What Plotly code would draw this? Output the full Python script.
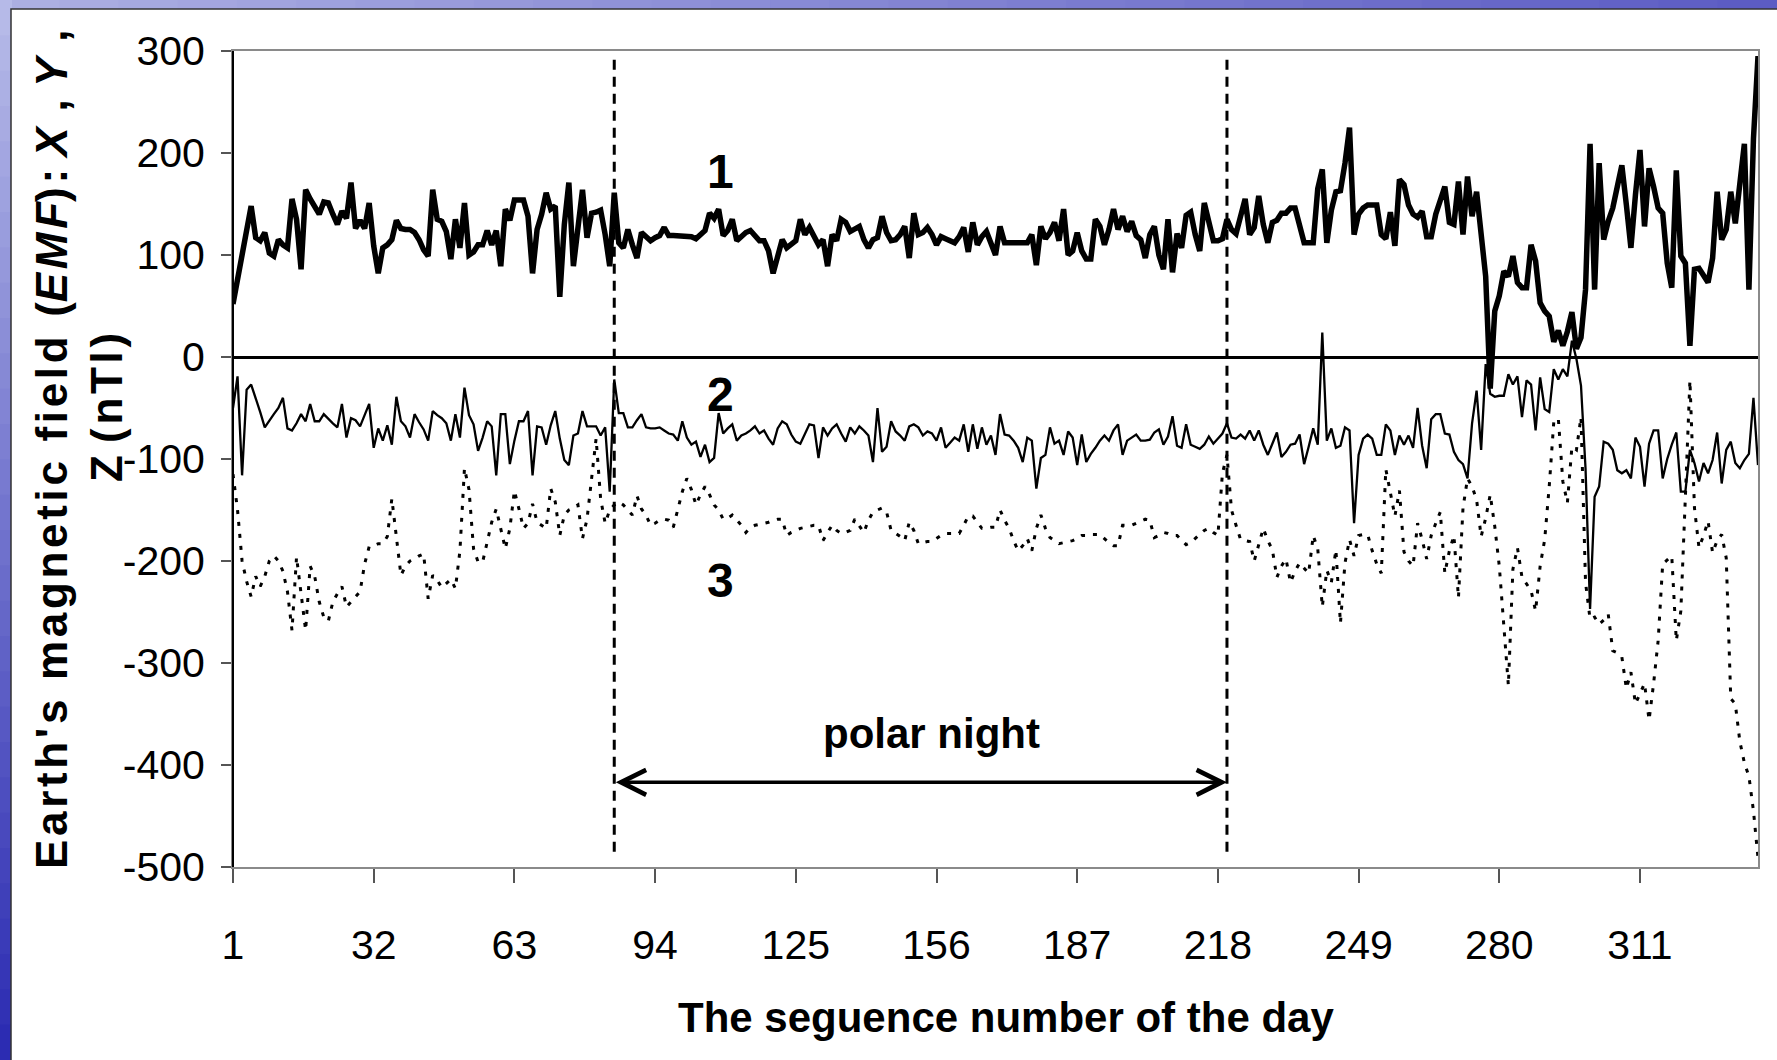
import plotly.graph_objects as go

# ---------------- data ----------------
days = list(range(1, 338))

# curve 1 (X component)
x_comp = [
    52, 75, 95, 125, 148, 117, 114, 122, 102, 99,
    115, 110, 107, 155, 135, 86, 164, 155, 148, 140,
    152, 151, 140, 130, 143, 136, 171, 126, 134, 126,
    151, 109, 82, 107, 110, 115, 134, 126, 125, 125,
    122, 115, 105, 99, 164, 135, 133, 123, 96, 135,
    107, 151, 100, 103, 110, 110, 124, 110, 124, 89,
    145, 134, 154, 154, 154, 138, 82,
    125, 140, 161,
    145, 148, 59, 130, 171, 89, 133, 164, 117, 141,
    142, 144, 120, 89, 161, 112, 107, 125, 110, 97,
    122, 118, 114, 117, 119, 127, 119, 119, 119, 119,
    119, 118, 116, 120, 124, 141, 136, 145, 119, 124,
    135, 114, 118, 122, 124, 118, 114, 114, 104, 82,
    99, 115, 107, 110, 114, 135, 120, 127, 118, 110,
    115, 89, 120, 114, 135,
    132, 123, 126, 128, 115,
    107, 115, 117, 138, 122, 114, 115, 120, 128, 97,
    141, 120, 122, 127, 120, 110, 118, 116, 114, 112,
    118, 127, 103, 132, 110, 118, 123, 110, 100, 128,
    112, 112, 112, 112, 112, 112, 120, 90, 128, 116,
    122, 132, 114, 145, 100, 104, 122, 104, 96, 96,
    135, 128, 110, 125, 145, 125, 138, 123, 133, 119,
    115, 97, 120, 128, 100, 86, 135, 83, 121, 107,
    139, 142, 120, 104, 151, 130, 114, 114, 116, 135,
    125, 121, 140, 155, 120, 127, 158, 130, 112, 132,
    134, 141, 141, 146, 146, 130, 112, 112, 112, 165,
    184, 112, 144, 162, 163, 190, 225, 120, 140, 146,
    149, 149, 149, 120, 116, 142, 109, 174, 169, 149,
    140, 137, 143, 118, 118, 140, 153, 167, 132, 130,
    172, 120, 177, 138, 162, 120, 79, -31, 45, 60,
    84, 79, 99, 73, 68, 68, 110, 94, 53, 45,
    40, 15, 26, 11, 25, 44, 8, 19, 66, 209,
    66, 190, 115, 133, 146, 167, 188, 149, 107, 159,
    203, 128, 185, 167, 146, 141, 92, 68, 183, 99,
    92, 11, 86, 87, 80, 73, 97, 162, 115, 125,
    162, 131, 170, 209, 66, 214, 295,
]

# curve 2 (Y component)
y_comp = [
    -50, -19, -116, -32, -27, -40, -54, -69, -62, -56,
    -50, -40, -70, -72, -65, -56, -63, -46, -63, -63,
    -56, -61, -65, -69, -46, -79, -60, -62, -68, -57,
    -46, -89, -70, -82, -67, -86, -39, -63, -68, -79,
    -56, -64, -71, -82, -53, -57, -60, -65, -82, -56,
    -79, -30, -57, -66, -92, -79, -63, -68, -116, -56,
    -56, -105, -82, -63, -63, -53, -116,
    -68, -69, -86,
    -67, -53, -80, -101, -106, -77, -75, -53, -68, -68,
    -68, -77, -69, -132, -22, -55, -55, -69, -69, -62,
    -56, -69, -70, -70, -69, -72, -75, -76, -82, -63,
    -79, -86, -83, -98, -86, -103, -99, -55, -75, -70,
    -66, -82, -77, -75, -72, -68, -75, -72, -80, -86,
    -70, -63, -66, -76, -83, -85, -75, -66, -67, -99,
    -69, -77, -70, -66, -75,
    -83, -69, -75, -68, -72,
    -77, -103, -50, -93, -88, -63, -73, -77, -82, -68,
    -66, -69, -77, -73, -75, -82, -69, -89, -84, -79,
    -82, -66, -93, -66, -90, -69, -86, -77, -96, -56,
    -76, -77, -82, -89, -103, -79, -82, -129, -99, -96,
    -69, -85, -82, -96, -73, -79, -106, -76, -103, -95,
    -89, -82, -77, -82, -72, -66, -96, -82, -79, -76,
    -82, -82, -81, -74, -71, -86, -78, -58, -87, -89,
    -66, -86, -88, -90, -86, -78, -85, -80, -75, -65,
    -79, -80, -76, -80, -72, -82, -72, -86, -96, -85,
    -74, -98, -93, -86, -85, -76, -105, -88, -70, -86,
    24, -82, -70, -89, -87, -69, -72, -163, -96, -80,
    -76, -80, -96, -96, -66, -72, -96, -77, -86, -77,
    -89, -50, -87, -109, -61, -56, -56, -75, -76, -93,
    -101, -105, -119, -65, -33, -91, -7, -36, -39, -38,
    -38, -17, -27, -19, -59, -23, -27, -72, -20, -51,
    -54, -12, -22, -12, -19, 16, -2, -28, -109, -247,
    -137, -127, -83, -85, -91, -111, -114, -111, -119, -79,
    -88, -127, -85, -72, -72, -119, -100, -86, -74, -132,
    -132, -91, -104, -122, -104, -114, -101, -74, -124, -91,
    -83, -104, -109, -101, -95, -40, -106,
]

# curve 3 (Z component)
z_comp = [
    -115, -150, -200, -220, -235, -215, -225, -215, -200, -195,
    -200, -210, -230, -268, -196, -230, -268, -205, -215, -240,
    -255, -259, -240, -232, -225, -245, -240, -236, -230, -203,
    -186, -185, -183, -183, -176, -139, -176, -214, -205, -200,
    -198, -195, -193, -237, -214, -219, -226, -222, -218, -227,
    -190, -109, -130, -188, -201, -201, -183, -162, -149, -168,
    -188, -168, -131, -149, -168, -163, -144,
    -162, -165, -168,
    -129, -142, -175, -155, -150, -148, -145, -178, -159, -119,
    -80, -139, -163, -150, -145, -142, -145, -150, -155, -136,
    -149, -155, -165, -163, -160, -159, -160, -167, -150, -132,
    -119, -130, -145, -135, -127, -135, -145, -150, -159, -158,
    -155, -160, -165, -172, -167, -165, -164, -163, -162, -160,
    -159, -159, -175, -172, -170, -168, -167, -166, -165, -165,
    -180, -172, -165, -170, -173,
    -172, -170, -159, -165, -172,
    -160, -152, -150, -148, -152, -170, -173, -176, -180, -162,
    -170, -183, -182, -181, -181, -178, -175, -173, -173, -173,
    -173, -165, -156, -156, -162, -168, -168, -167, -167, -150,
    -160, -168, -180, -190, -185, -178, -190, -168, -155, -168,
    -177, -180, -183, -182, -181, -180, -178, -175, -175, -174,
    -174, -174, -178, -182, -185, -185, -165, -165, -165, -163,
    -161, -159, -160, -177, -175, -172, -173, -175, -175, -180,
    -184, -182, -178, -174, -170, -168, -172, -175, -114, -96,
    -150, -165, -179, -180, -181, -200, -185, -168, -180, -189,
    -216, -205, -198, -221, -210, -202, -207, -212, -175, -188,
    -245, -209, -221, -189, -261, -202, -179, -195, -175, -174,
    -174, -190, -203, -212, -110, -135, -156, -131, -191, -200,
    -205, -163, -179, -198, -175, -163, -152, -212, -190, -175,
    -236, -148, -119, -127, -140, -176, -158, -135, -166, -205,
    -262, -322, -208, -187, -216, -222, -229, -249, -205, -179,
    -127, -64, -60, -122, -143, -88, -91, -59, -221, -257,
    -255, -262, -258, -252, -288, -290, -294, -325, -309, -340,
    -330, -320, -356, -320, -278, -203, -199, -195, -278, -249,
    -137, -23, -148, -187, -175, -161, -192, -180, -174, -197,
    -335, -340, -377, -398, -411, -445, -491,
]

tick_days = [1, 32, 63, 94, 125, 156, 187, 218, 249, 280, 311]
y_ticks = [300, 200, 100, 0, -100, -200, -300, -400, -500]
polar_start, polar_end = 85, 220
curve_labels = ["1", "2", "3"]
curve_label_day = 108.5
curve_label_vals = [182, -37, -219]

# ---------------- layout geometry ----------------
W, H = 1777, 1060
L, R, T, B = 233, 19, 51, 193
PW, PH = W - L - R, H - T - B


def px(xp):
    return (xp - L) / PW


def py(yp):
    return (H - B - yp) / PH


FONT = "Liberation Sans, Arial, sans-serif"
HS = "\u200a"


def spaced(s):
    return HS.join(s)


fig = go.Figure()
fig.add_trace(go.Scatter(x=days, y=z_comp, mode="lines",
                         line=dict(color="black", width=3, dash="4px,8px"),
                         showlegend=False, hoverinfo="skip"))
fig.add_trace(go.Scatter(x=days, y=y_comp, mode="lines",
                         line=dict(color="black", width=2.3),
                         showlegend=False, hoverinfo="skip"))
fig.add_trace(go.Scatter(x=days, y=x_comp, mode="lines",
                         line=dict(color="black", width=5.5),
                         showlegend=False, hoverinfo="skip"))

shapes = []


def mix(c1, c2, t):
    return "rgb(%d,%d,%d)" % tuple(round(a + (b - a) * t) for a, b in zip(c1, c2))


# blue gradient frame: top strip and left strip
n = 30
top_a, top_b = (172, 175, 226), (92, 92, 196)
for i in range(n):
    x0 = i * W / n
    x1 = (i + 1) * W / n + 1
    shapes.append(dict(type="rect", xref="paper", yref="paper",
                       x0=px(x0), x1=px(x1), y0=py(10), y1=py(-2),
                       fillcolor=mix(top_a, top_b, i / (n - 1)),
                       line=dict(width=0), layer="below"))
left_a, left_b = (182, 186, 232), (44, 44, 178)
for i in range(n):
    y0 = i * H / n
    y1 = (i + 1) * H / n + 1
    shapes.append(dict(type="rect", xref="paper", yref="paper",
                       x0=px(-2), x1=px(12), y0=py(y1), y1=py(y0),
                       fillcolor=mix(left_a, left_b, i / (n - 1)),
                       line=dict(width=0), layer="below"))
# white slide area
shapes.append(dict(type="rect", xref="paper", yref="paper",
                   x0=px(11), x1=px(W + 5), y0=py(H + 5), y1=py(9),
                   fillcolor="white", line=dict(color="#333333", width=1.5),
                   layer="below"))
# black left axis line
shapes.append(dict(type="line", xref="paper", yref="paper",
                   x0=0, x1=0, y0=0, y1=1,
                   line=dict(color="black", width=2), layer="above"))
# polar night boundaries
for d in (polar_start, polar_end):
    shapes.append(dict(type="line", xref="x", yref="y",
                       x0=d, x1=d, y0=-485, y1=296,
                       line=dict(color="black", width=3, dash="10px,7px"),
                       layer="above"))

annotations = []
# double-headed arrow
annotations.append(dict(x=polar_end, y=-417, ax=polar_start, ay=-417,
                        xref="x", yref="y", axref="x", ayref="y",
                        text="", showarrow=True, arrowhead=5, startarrowhead=5,
                        arrowside="end+start", arrowsize=1.4, startarrowsize=1.4,
                        arrowwidth=3.5, arrowcolor="black", standoff=0, startstandoff=0))
annotations.append(dict(x=155, y=-369, xref="x", yref="y", text="<b>polar night</b>",
                        showarrow=False, font=dict(family=FONT, size=42, color="black")))
for lab, val in zip(curve_labels, curve_label_vals):
    annotations.append(dict(x=curve_label_day, y=val, xref="x", yref="y",
                            text="<b>%s</b>" % lab, showarrow=False,
                            font=dict(family=FONT, size=48, color="black")))

# axis titles
annotations.append(dict(x=px(1006), y=py(1017), xref="paper", yref="paper",
                        text="<b>The seguence number of the day</b>", showarrow=False,
                        xanchor="center", yanchor="middle",
                        font=dict(family=FONT, size=42, color="black")))
title1 = ("<b>" + spaced("Earth's magnetic field (") + "<i>" + spaced("EMF") + "</i>"
          + spaced("):") + " <i>X</i>" + HS + " ," + " <i>Y</i>" + HS + " ," + "</b>")
annotations.append(dict(x=px(51), y=py(450), xref="paper", yref="paper",
                        text=title1, textangle=-90, showarrow=False,
                        xanchor="center", yanchor="middle",
                        font=dict(family=FONT, size=44, color="black")))
title2 = "<b>Z " + spaced("(nTl)") + "</b>"
annotations.append(dict(x=px(106), y=py(408), xref="paper", yref="paper",
                        text=title2, textangle=-90, showarrow=False,
                        xanchor="center", yanchor="middle",
                        font=dict(family=FONT, size=44, color="black")))

fig.update_layout(
    width=W, height=H,
    margin=dict(l=L, r=R, t=T, b=B, pad=0),
    paper_bgcolor="white",
    plot_bgcolor="rgba(0,0,0,0)",
    shapes=shapes,
    annotations=annotations,
    showlegend=False,
    xaxis=dict(range=[1, 337], tickvals=tick_days, ticktext=[str(t) for t in tick_days],
               ticks="outside", ticklen=14, tickwidth=1.5, tickcolor="#555555",
               showline=True, linecolor="#8a8a8a", linewidth=2, mirror=True,
               showgrid=False, zeroline=False, ticklabelstandoff=27,
               tickfont=dict(family=FONT, size=41, color="black")),
    yaxis=dict(range=[-500, 300], tickvals=y_ticks, ticktext=[str(t) for t in y_ticks],
               ticks="outside", ticklen=10, tickwidth=1.5, tickcolor="#555555",
               showline=True, linecolor="#8a8a8a", linewidth=2, mirror=True,
               showgrid=False, zeroline=True, zerolinecolor="black", zerolinewidth=3,
               ticklabelstandoff=8,
               tickfont=dict(family=FONT, size=41, color="black")),
)

fig.write_html("out.html",
               config={"displayModeBar": False},
               post_script="document.body.style.margin='0';"
                           "document.body.style.overflow='hidden';")
